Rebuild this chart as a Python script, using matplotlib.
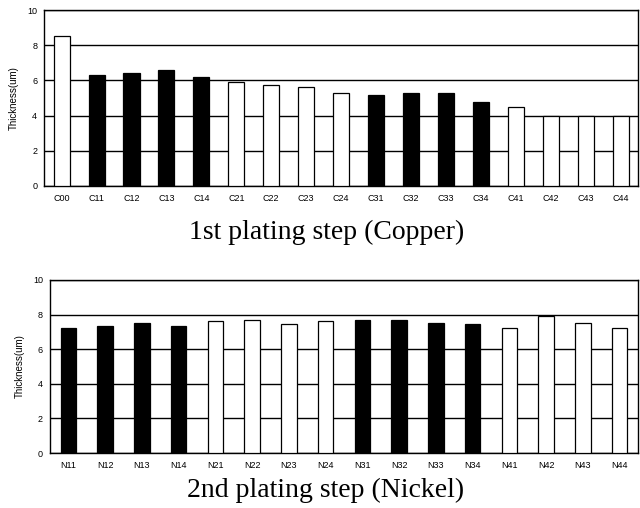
import numpy as np
import matplotlib.pyplot as plt

## Data
cu_labels = ['C00', 'C11', 'C12', 'C13', 'C14', 'C21', 'C22', 'C23', 'C24',
             'C31', 'C32', 'C33', 'C34', 'C41', 'C42', 'C43', 'C44']
cu_thick = [8.52, 6.3, 6.4, 6.6, 6.2, 5.9, 5.75, 5.6, 5.3,
            5.15, 5.3, 5.3, 4.75, 4.5, 3.95, 4.0, 3.95]
cu_dark = [0, 1, 1, 1, 1, 0, 0, 0, 0, 1, 1, 1, 1, 0, 0, 0, 0]

ni_labels = ['N11', 'N12', 'N13', 'N14', 'N21', 'N22', 'N23', 'N24',
             'N31', 'N32', 'N33', 'N34', 'N41', 'N42', 'N43', 'N44']
ni_thick = [7.24, 7.32, 7.5, 7.36, 7.6, 7.67, 7.47, 7.63,
            7.67, 7.67, 7.5, 7.47, 7.24, 7.92, 7.5, 7.24]
ni_dark = [1, 1, 1, 1, 0, 0, 0, 0, 1, 1, 1, 1, 0, 0, 0, 0]


def panel(ax, labels, vals, dark, width):
    x = np.arange(len(labels))
    cols = ['black' if d else 'white' for d in dark]
    ax.set_axisbelow(True)
    ax.yaxis.grid(True, color='black', linewidth=1.0)
    ax.bar(x, vals, width=width, color=cols, edgecolor='black', linewidth=0.9, zorder=3)
    ax.set_xlim(-0.5, len(labels) - 0.5)
    ax.set_ylim(0, 10)
    ax.set_yticks([0, 2, 4, 6, 8, 10])
    ax.set_xticks(x)
    ax.set_xticklabels(labels, fontsize=6.5, family='Liberation Sans')
    for t in ax.get_yticklabels():
        t.set_fontsize(6.5)
        t.set_family('Liberation Sans')
    ax.tick_params(axis='x', length=0, pad=6)
    ax.tick_params(axis='y', length=0, pad=5)
    ax.set_ylabel('Thickness(um)', fontsize=7, family='Liberation Sans', labelpad=6)
    for s in ax.spines.values():
        s.set_linewidth(1.0)


fig = plt.figure(figsize=(6.4, 5.08), dpi=100)

ax1 = fig.add_axes([0.069, 0.634, 0.928, 0.346])
panel(ax1, cu_labels, cu_thick, cu_dark, 0.46)

ax2 = fig.add_axes([0.078, 0.108, 0.919, 0.341])
panel(ax2, ni_labels, ni_thick, ni_dark, 0.42)

fig.text(0.511, 0.543, '1st plating step (Copper)', ha='center', va='center',
         fontsize=20, family='Liberation Serif')
fig.text(0.508, 0.035, '2nd plating step (Nickel)', ha='center', va='center',
         fontsize=20, family='Liberation Serif')

fig.savefig('out.png', dpi=100)
